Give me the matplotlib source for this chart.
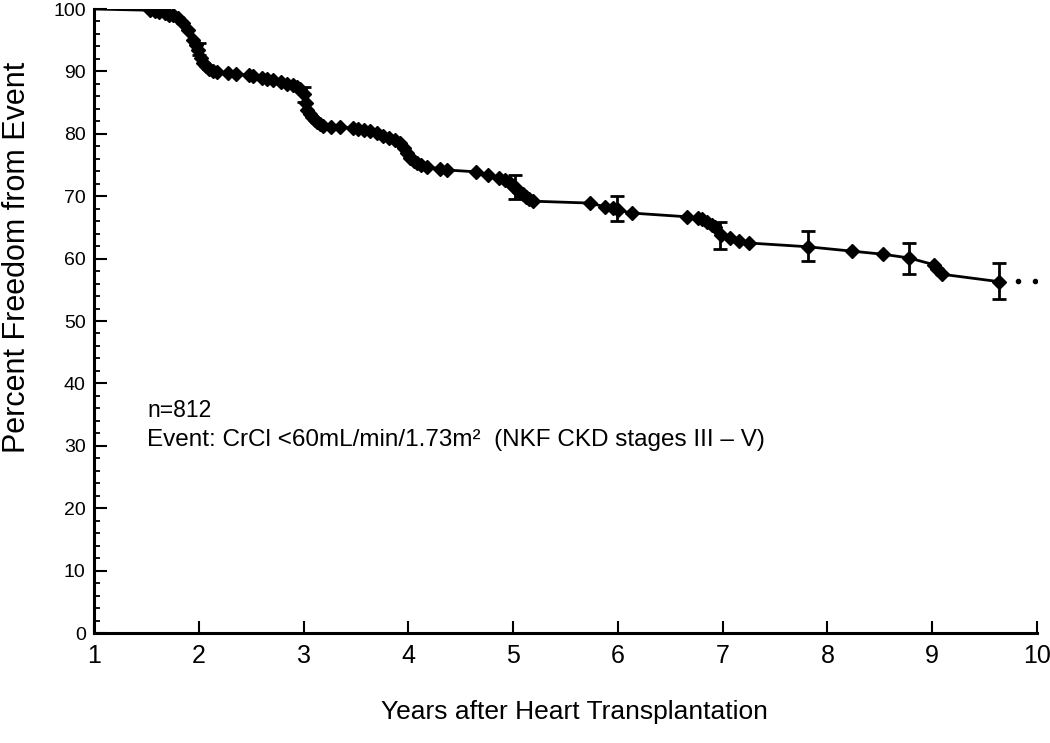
import numpy as np
import matplotlib
matplotlib.use("Agg")
import matplotlib.pyplot as plt

# Kaplan-Meier style curve: freedom from CrCl < 60 after heart transplant
years = [1.0, 1.53, 1.58, 1.62, 1.68, 1.72, 1.75, 1.8, 1.85, 1.9, 1.945, 1.97,
         1.99, 2.02, 2.04, 2.07, 2.1, 2.14, 2.17, 2.28, 2.36, 2.48, 2.52, 2.6,
         2.65, 2.71, 2.78, 2.84, 2.9, 2.94, 2.97, 3.0, 3.02, 3.03, 3.06, 3.08,
         3.11, 3.13, 3.16, 3.19, 3.26, 3.35, 3.47, 3.52, 3.58, 3.63, 3.7, 3.76,
         3.82, 3.87, 3.92, 3.96, 3.99, 4.02, 4.05, 4.08, 4.12, 4.18, 4.3, 4.37,
         4.65, 4.76, 4.87, 4.92, 4.97, 5.0, 5.02, 5.04, 5.06, 5.09, 5.12, 5.15,
         5.19, 5.73, 5.88, 5.95, 6.0, 6.13, 6.66, 6.76, 6.8, 6.85, 6.9, 6.93,
         6.98, 7.07, 7.16, 7.25, 7.81, 8.23, 8.53, 8.78, 9.02, 9.05, 9.09, 9.64]
freedom = [100, 99.8, 99.7, 99.5, 99.3, 99.1, 99.0, 98.5, 97.8, 96.6, 95.0, 94.2,
           93.4, 92.2, 91.3, 90.8, 90.4, 90.1, 89.9, 89.7, 89.6, 89.4, 89.3, 89.0,
           88.8, 88.6, 88.3, 88.0, 87.8, 87.5, 87.2, 86.3, 85.0, 83.8, 83.2, 82.7,
           82.2, 81.9, 81.5, 81.2, 81.1, 81.1, 80.9, 80.8, 80.6, 80.4, 80.1, 79.7,
           79.3, 79.0, 78.6, 77.8, 76.9, 76.2, 75.7, 75.3, 75.0, 74.7, 74.4, 74.2,
           73.9, 73.4, 72.9, 72.6, 72.1, 71.7, 71.4, 71.0, 70.7, 70.3, 69.9, 69.6,
           69.2, 68.9, 68.3, 68.1, 67.8, 67.3, 66.7, 66.5, 66.3, 65.9, 65.4, 65.1,
           63.8, 63.3, 62.8, 62.5, 61.9, 61.2, 60.7, 60.1, 59.0, 58.3, 57.5, 56.3]

# confidence bars
err_x = [2.0, 3.0, 5.02, 5.99, 6.97, 7.81, 8.78, 9.64]
err_y = [93.6, 86.3, 71.5, 68.0, 63.7, 62.0, 60.0, 56.4]
err_h = [0.9, 1.2, 1.9, 2.0, 2.2, 2.4, 2.5, 2.9]

# trailing dots after last bar
tail_x = [9.82, 9.98]
tail_y = [56.4, 56.4]

plt.rcParams["font.family"] = ["Liberation Sans", "DejaVu Sans"]

fig = plt.figure(figsize=(10.5, 7.43), dpi=100, facecolor="white")
ax = fig.add_axes([94 / 1050, 1 - 633 / 743, 943 / 1050, 624 / 743])

ax.plot(years, freedom, color="black", lw=2.0, marker="D", ms=7,
        markevery=list(range(1, len(years))), zorder=3)
ax.errorbar(err_x, err_y, yerr=err_h, fmt="none", ecolor="black",
            elinewidth=2.0, capsize=5, capthick=2.0, zorder=3)
ax.plot(tail_x, tail_y, ls="none", marker="o", ms=3, color="black")

ax.set_xlim(1, 10)
ax.set_ylim(0, 100)
ax.set_xticks(range(1, 11))
ax.set_yticks(range(0, 101, 10))
ax.set_yticks(range(0, 101, 2), minor=True)
ax.tick_params(axis="both", which="major", direction="in", length=9, width=1.5,
               color="black")
ax.tick_params(axis="y", which="minor", direction="in", length=4.5, width=1.3)
ax.tick_params(axis="x", labelsize=18, pad=8)
ax.tick_params(axis="y", labelsize=14, pad=6)

for s in ("top", "right"):
    ax.spines[s].set_visible(False)
for s in ("left", "bottom"):
    ax.spines[s].set_linewidth(2.2)

ax.text(1.506, 35.7, "n=812", fontsize=16.5, va="center", ha="left")
ax.text(1.506, 30.9, "Event: CrCl <60mL/min/1.73m\u00b2  (NKF CKD stages III \u2013 V)",
        fontsize=17.5, va="center", ha="left")

fig.text(574 / 1050, 1 - 712 / 743, "Years after Heart Transplantation",
         fontsize=19, ha="center", va="center")
fig.text(17 / 1050, 1 - 257 / 743, "Percent Freedom from Event",
         fontsize=22, ha="center", va="center", rotation=90)

fig.savefig("out.png", dpi=100, facecolor="white")
